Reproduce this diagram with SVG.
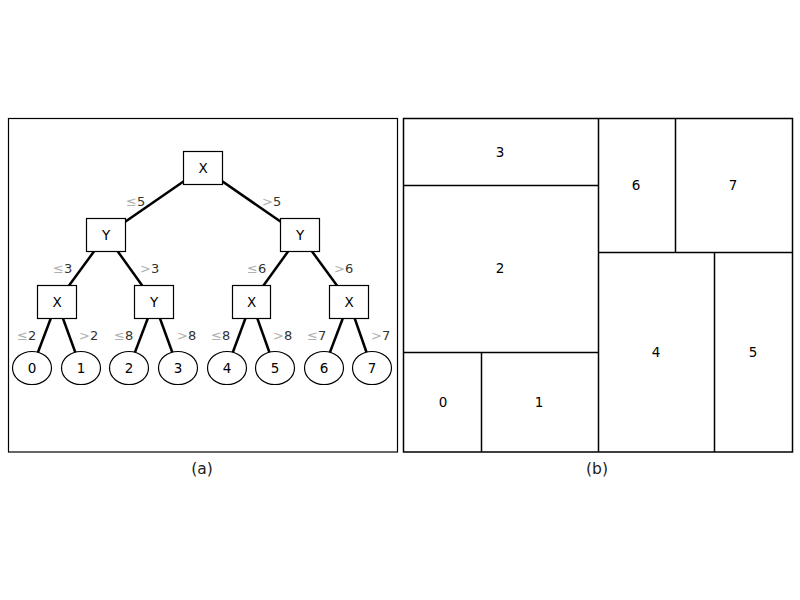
<svg xmlns="http://www.w3.org/2000/svg" width="800" height="600" viewBox="0 0 800 600">
<style>
text{font-family:"DejaVu Sans","Liberation Sans",sans-serif}
.frame{fill:none;stroke:#000;stroke-width:1.2}
.edge{stroke:#000;stroke-width:2.5;fill:none}
.box{fill:#fff;stroke:#000;stroke-width:1.2}
.nt{font-size:13.5px;text-anchor:middle;dominant-baseline:central;fill:#000}
.lab{font-size:13px;fill:#333}
.sym{fill:#b0b0b0}
.cap{font-size:15.5px;text-anchor:middle;fill:#222}
.cell{fill:none;stroke:#000;stroke-width:1.5}
</style>
<rect width="800" height="600" fill="#fff"/>
<rect class="frame" x="8.5" y="118.5" width="389" height="333.5"/>
<g id="connectors">
<line class="edge" x1="203" y1="168" x2="106" y2="235"/>
<line class="edge" x1="203" y1="168" x2="300" y2="235"/>
<line class="edge" x1="106" y1="235" x2="57" y2="302"/>
<line class="edge" x1="106" y1="235" x2="154" y2="302"/>
<line class="edge" x1="300" y1="235" x2="251.5" y2="302"/>
<line class="edge" x1="300" y1="235" x2="349" y2="302"/>
<line class="edge" x1="57" y1="302" x2="32" y2="368"/>
<line class="edge" x1="57" y1="302" x2="81" y2="368"/>
<line class="edge" x1="154" y1="302" x2="129" y2="368"/>
<line class="edge" x1="154" y1="302" x2="178" y2="368"/>
<line class="edge" x1="251.5" y1="302" x2="227" y2="368"/>
<line class="edge" x1="251.5" y1="302" x2="275" y2="368"/>
<line class="edge" x1="349" y1="302" x2="324" y2="368"/>
<line class="edge" x1="349" y1="302" x2="372" y2="368"/>
</g>
<g id="edge-labels" class="lab">
<text x="126" y="206"><tspan class="sym">≤</tspan>5</text>
<text x="262" y="206"><tspan class="sym">&gt;</tspan>5</text>
<text x="53" y="273"><tspan class="sym">≤</tspan>3</text>
<text x="140" y="273"><tspan class="sym">&gt;</tspan>3</text>
<text x="247" y="273"><tspan class="sym">≤</tspan>6</text>
<text x="334" y="273"><tspan class="sym">&gt;</tspan>6</text>
<text x="17" y="340"><tspan class="sym">≤</tspan>2</text>
<text x="79" y="340"><tspan class="sym">&gt;</tspan>2</text>
<text x="114" y="340"><tspan class="sym">≤</tspan>8</text>
<text x="177" y="340"><tspan class="sym">&gt;</tspan>8</text>
<text x="211" y="340"><tspan class="sym">≤</tspan>8</text>
<text x="273" y="340"><tspan class="sym">&gt;</tspan>8</text>
<text x="307" y="340"><tspan class="sym">≤</tspan>7</text>
<text x="371" y="340"><tspan class="sym">&gt;</tspan>7</text>
</g>
<g id="n-root"><rect class="box" x="183.5" y="151.5" width="39" height="33"/><text class="nt" x="203" y="168">X</text></g>
<g id="n-yl"><rect class="box" x="86.5" y="218.5" width="39" height="33"/><text class="nt" x="106" y="235">Y</text></g>
<g id="n-yr"><rect class="box" x="280.5" y="218.5" width="39" height="33"/><text class="nt" x="300" y="235">Y</text></g>
<g id="n-x1"><rect class="box" x="37.5" y="285.5" width="39" height="33"/><text class="nt" x="57" y="302">X</text></g>
<g id="n-y2"><rect class="box" x="134.5" y="285.5" width="39" height="33"/><text class="nt" x="154" y="302">Y</text></g>
<g id="n-x3"><rect class="box" x="232.5" y="285.5" width="38" height="33"/><text class="nt" x="251.5" y="302">X</text></g>
<g id="n-x4"><rect class="box" x="329.5" y="285.5" width="39" height="33"/><text class="nt" x="349" y="302">X</text></g>
<g id="leaf0"><ellipse class="box" cx="32" cy="368" rx="19.5" ry="16.5"/><text class="nt" x="32" y="368">0</text></g>
<g id="leaf1"><ellipse class="box" cx="81" cy="368" rx="19.5" ry="16.5"/><text class="nt" x="81" y="368">1</text></g>
<g id="leaf2"><ellipse class="box" cx="129" cy="368" rx="19.5" ry="16.5"/><text class="nt" x="129" y="368">2</text></g>
<g id="leaf3"><ellipse class="box" cx="178" cy="368" rx="19.5" ry="16.5"/><text class="nt" x="178" y="368">3</text></g>
<g id="leaf4"><ellipse class="box" cx="227" cy="368" rx="19.5" ry="16.5"/><text class="nt" x="227" y="368">4</text></g>
<g id="leaf5"><ellipse class="box" cx="275" cy="368" rx="19.5" ry="16.5"/><text class="nt" x="275" y="368">5</text></g>
<g id="leaf6"><ellipse class="box" cx="324" cy="368" rx="19.5" ry="16.5"/><text class="nt" x="324" y="368">6</text></g>
<g id="leaf7"><ellipse class="box" cx="372" cy="368" rx="19.5" ry="16.5"/><text class="nt" x="372" y="368">7</text></g>
<text class="cap" x="202" y="474">(a)</text>
<g id="partition">
<rect class="cell" x="403.5" y="118.5" width="389" height="333.5"/>
<line class="cell" x1="598.5" y1="118.5" x2="598.5" y2="452"/>
<line class="cell" x1="403.5" y1="185.5" x2="598.5" y2="185.5"/>
<line class="cell" x1="403.5" y1="352.5" x2="598.5" y2="352.5"/>
<line class="cell" x1="481.5" y1="352.5" x2="481.5" y2="452"/>
<line class="cell" x1="598.5" y1="252.5" x2="792.5" y2="252.5"/>
<line class="cell" x1="675.5" y1="118.5" x2="675.5" y2="252.5"/>
<line class="cell" x1="714.5" y1="252.5" x2="714.5" y2="452"/>
<text class="nt" x="500" y="152">3</text>
<text class="nt" x="500" y="268">2</text>
<text class="nt" x="443" y="402">0</text>
<text class="nt" x="539" y="402">1</text>
<text class="nt" x="636" y="185">6</text>
<text class="nt" x="733" y="185">7</text>
<text class="nt" x="656" y="352">4</text>
<text class="nt" x="753" y="352">5</text>
</g>
<text class="cap" x="597" y="474">(b)</text>
</svg>
